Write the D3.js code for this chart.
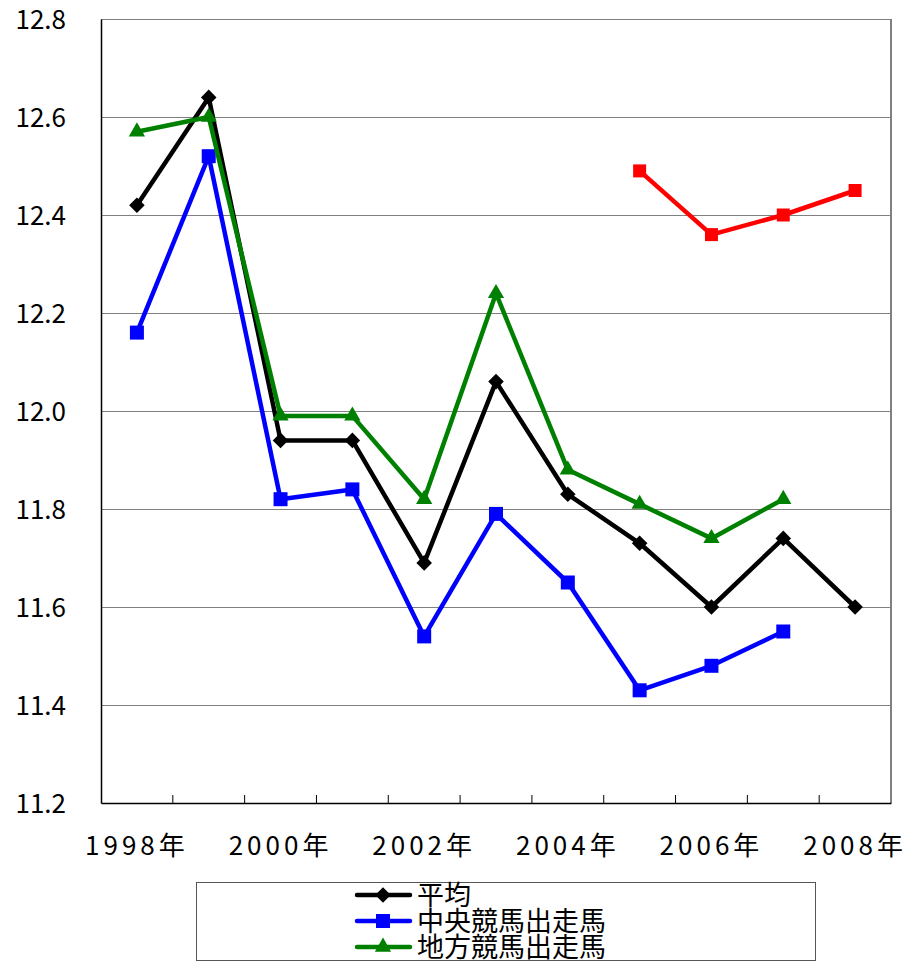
<!DOCTYPE html>
<html>
<head>
<meta charset="utf-8">
<script src="https://cdn.jsdelivr.net/npm/d3@7"></script>
<style>
  body { margin: 0; background: #fff; }
  text { font-family: "Noto Sans CJK JP", sans-serif; fill: #000; }
</style>
</head>
<body>
<svg id="chart" width="915" height="965"></svg>
<script>
// data
var years = ["1998", "1999", "2000", "2001", "2002", "2003", "2004", "2005", "2006", "2007", "2008"];
var heikin = [12.42, 12.64, 11.94, 11.94, 11.69, 12.06, 11.83, 11.73, 11.60, 11.74, 11.60];
var chuo = [12.16, 12.52, 11.82, 11.84, 11.54, 11.79, 11.65, 11.43, 11.48, 11.55, null];
var chiho = [12.57, 12.60, 11.99, 11.99, 11.82, 12.24, 11.88, 11.81, 11.74, 11.82, null];
var extra = [null, null, null, null, null, null, null, 12.49, 12.36, 12.40, 12.45];
var yTicks = [11.2, 11.4, 11.6, 11.8, 12.0, 12.2, 12.4, 12.6, 12.8];

var series = [
  {name: "平均", values: heikin, color: "#000000", symbol: d3.symbolSquare, size: 121, rotate: 45, legend: true},
  {name: "中央競馬出走馬", values: chuo, color: "#0000ff", symbol: d3.symbolSquare, size: 196, rotate: 0, legend: true},
  {name: "地方競馬出走馬", values: chiho, color: "#008000", symbol: d3.symbolTriangle, size: 115, rotate: 0, legend: true},
  {name: "", values: extra, color: "#ff0000", symbol: d3.symbolSquare, size: 169, rotate: 0, legend: false}
];

var svg = d3.select("#chart");
var plotLeft = 101, plotRight = 891, plotTop = 19, plotBottom = 803;

var x = d3.scaleBand().domain(years).range([plotLeft, plotRight]);
var y = d3.scaleLinear().domain([11.2, 12.8]).range([plotBottom, plotTop]);

// gridlines
svg.append("g").selectAll("line")
  .data(yTicks.slice(1))
  .enter().append("line")
  .attr("x1", plotLeft).attr("x2", plotRight)
  .attr("y1", function(d) { return y(d) + 0.5; })
  .attr("y2", function(d) { return y(d) + 0.5; })
  .attr("stroke", "#808080").attr("stroke-width", 1);

// right border
svg.append("line")
  .attr("x1", plotRight).attr("x2", plotRight).attr("y1", plotTop).attr("y2", plotBottom)
  .attr("stroke", "#808080").attr("stroke-width", 2);

// y axis
var yAxis = svg.append("g")
  .attr("transform", "translate(" + plotLeft + ",0)")
  .call(d3.axisLeft(y).tickValues(yTicks).tickFormat(d3.format(".1f")).tickSize(0).tickPadding(35));
yAxis.select(".domain").attr("stroke", "#000").attr("stroke-width", 1.5);
yAxis.selectAll("text").style("font-size", "26px").attr("font-family", null).attr("dy", "0.38em");

// x axis
var xAxis = svg.append("g")
  .attr("transform", "translate(0," + plotBottom + ")")
  .call(d3.axisBottom(x).tickSize(0).tickFormat(function(d, i) { return i % 2 === 0 ? d + "年" : ""; }));
xAxis.select(".domain").attr("stroke", "#000").attr("stroke-width", 1.5);
xAxis.selectAll("text").style("font-size", "26px").style("letter-spacing", "4px")
  .attr("font-family", null).attr("y", 34);

// tick marks between categories
svg.append("g").selectAll("line")
  .data(years.slice(1))
  .enter().append("line")
  .attr("x1", function(d) { return x(d); })
  .attr("x2", function(d) { return x(d); })
  .attr("y1", plotBottom - 8).attr("y2", plotBottom)
  .attr("stroke", "#000").attr("stroke-width", 1);

// lines
var line = d3.line()
  .defined(function(d) { return d !== null; })
  .x(function(d, i) { return x(years[i]) + x.bandwidth() / 2; })
  .y(function(d) { return y(d); });

series.forEach(function(s) {
  svg.append("path")
    .datum(s.values)
    .attr("d", line)
    .attr("fill", "none")
    .attr("stroke", s.color)
    .attr("stroke-width", 4.5)
    .attr("stroke-linejoin", "round");

  svg.append("g").selectAll("path")
    .data(s.values.map(function(v, i) { return {v: v, i: i}; }).filter(function(d) { return d.v !== null; }))
    .enter().append("path")
    .attr("d", d3.symbol().type(s.symbol).size(s.size))
    .attr("transform", function(d) {
      return "translate(" + (x(years[d.i]) + x.bandwidth() / 2) + "," + y(d.v) + ") rotate(" + s.rotate + ")";
    })
    .attr("fill", s.color);
});

// legend
var legend = svg.append("g");
legend.append("rect")
  .attr("x", 196.5).attr("y", 882.5).attr("width", 619).attr("height", 78)
  .attr("fill", "none").attr("stroke", "#555").attr("stroke-width", 1);

var legendItems = legend.selectAll("g.item")
  .data(series.filter(function(s) { return s.legend; }))
  .enter().append("g")
  .attr("class", "item")
  .attr("transform", function(d, i) { return "translate(357," + (895 + i * 26) + ")"; });

legendItems.append("line")
  .attr("x1", 0).attr("x2", 53).attr("y1", 0).attr("y2", 0)
  .attr("stroke", function(d) { return d.color; })
  .attr("stroke-width", 4.5).attr("stroke-linecap", "round");
legendItems.append("path")
  .attr("d", function(d) { return d3.symbol().type(d.symbol).size(d.size)(); })
  .attr("transform", function(d) { return "translate(26,0) rotate(" + d.rotate + ")"; })
  .attr("fill", function(d) { return d.color; });
legendItems.append("text")
  .attr("x", 60).attr("dy", "0.36em")
  .style("font-size", "27px")
  .text(function(d) { return d.name; });
</script>
</body>
</html>
